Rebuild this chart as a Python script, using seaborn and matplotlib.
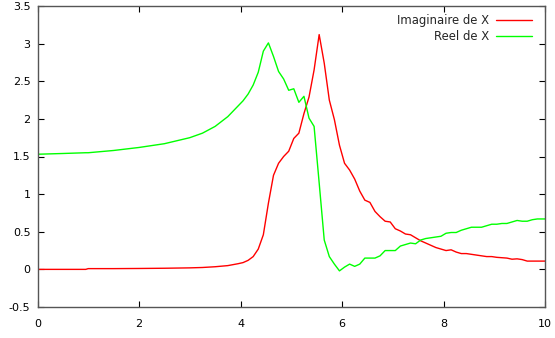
import numpy as np
import pandas as pd
import matplotlib
matplotlib.use("Agg")
import matplotlib.pyplot as plt
import seaborn as sns

x_vals = [0.0, 0.5, 0.95, 1.0, 1.5, 2.0, 2.5, 3.0, 3.25, 3.5, 3.75, 3.95,
          4.05, 4.15, 4.25, 4.35, 4.45, 4.55, 4.65, 4.75, 4.85, 4.95,
          5.05, 5.15, 5.25, 5.35, 5.45, 5.55, 5.65, 5.75, 5.85, 5.95,
          6.05, 6.15, 6.25, 6.35, 6.45, 6.55, 6.65, 6.75, 6.85, 6.95,
          7.05, 7.15, 7.25, 7.35, 7.45, 7.55, 7.65, 7.75, 7.85, 7.95,
          8.05, 8.15, 8.25, 8.35, 8.45, 8.55, 8.65, 8.75, 8.85, 8.95,
          9.05, 9.15, 9.25, 9.35, 9.45, 9.55, 9.65, 9.75, 9.85, 9.95, 10.0]

imag_vals = [0.0, 0.0, 0.0, 0.01, 0.01, 0.012, 0.015, 0.02, 0.025, 0.035, 0.05, 0.075,
             0.09, 0.12, 0.17, 0.27, 0.46, 0.88, 1.25, 1.41, 1.50, 1.57,
             1.74, 1.81, 2.07, 2.29, 2.65, 3.12, 2.74, 2.25, 1.99, 1.65,
             1.41, 1.32, 1.20, 1.04, 0.92, 0.89, 0.77, 0.70, 0.64, 0.63,
             0.54, 0.51, 0.47, 0.46, 0.42, 0.38, 0.35, 0.32, 0.29, 0.27,
             0.25, 0.26, 0.23, 0.21, 0.21, 0.20, 0.19, 0.18, 0.17, 0.17,
             0.16, 0.155, 0.15, 0.135, 0.14, 0.13, 0.11, 0.11, 0.11, 0.11, 0.11]

reel_vals = [1.53, 1.54, 1.55, 1.55, 1.58, 1.62, 1.67, 1.75, 1.81, 1.90, 2.03, 2.17,
             2.24, 2.33, 2.45, 2.62, 2.90, 3.01, 2.83, 2.63, 2.53, 2.38,
             2.40, 2.22, 2.30, 2.01, 1.90, 1.15, 0.39, 0.17, 0.07, -0.02,
             0.03, 0.07, 0.04, 0.07, 0.15, 0.15, 0.15, 0.18, 0.25, 0.25,
             0.25, 0.31, 0.33, 0.35, 0.34, 0.39, 0.41, 0.42, 0.43, 0.44,
             0.48, 0.49, 0.49, 0.52, 0.54, 0.56, 0.56, 0.56, 0.58, 0.60,
             0.60, 0.61, 0.61, 0.63, 0.65, 0.64, 0.64, 0.66, 0.67, 0.67, 0.67]

series_names = ["Imaginaire de X", "Reel de X"]
colors = ["#ff0000", "#00ff00"]

df = pd.concat([
    pd.DataFrame({"x": x_vals, "y": imag_vals, "serie": series_names[0]}),
    pd.DataFrame({"x": x_vals, "y": reel_vals, "serie": series_names[1]}),
])

sns.set_style("ticks")
plt.rcParams["font.family"] = ["DejaVu Sans"]

fig = plt.figure(figsize=(5.55, 3.38), dpi=100)
ax = fig.add_axes([37.5 / 555, 1 - 307 / 338, (545 - 37.5) / 555, (307 - 6) / 338])

sns.lineplot(data=df, x="x", y="y", hue="serie", palette=colors,
             linewidth=1.0, ax=ax, sort=False, estimator=None)

ax.set_xlim(0, 10)
ax.set_ylim(-0.5, 3.5)
ax.set_xticks([0, 2, 4, 6, 8, 10])
ax.set_xticklabels(["0", "2", "4", "6", "8", "10"])
ax.set_yticks([-0.5, 0, 0.5, 1, 1.5, 2, 2.5, 3, 3.5])
ax.set_yticklabels(["-0.5", "0", "0.5", "1", "1.5", "2", "2.5", "3", "3.5"])
ax.set_xlabel("")
ax.set_ylabel("")
ax.tick_params(direction="in", length=4, width=0.8, labelsize=8,
               top=True, right=True, colors="black", pad=5)
ax.tick_params(axis="x", pad=8.5)
for s in ax.spines.values():
    s.set_visible(True)
    s.set_color("#555555")
    s.set_linewidth(1.0)

leg = ax.legend(loc="upper right", frameon=False, markerfirst=False,
                fontsize=8.35, handlelength=3.08, labelspacing=0.22,
                handletextpad=0.58, borderaxespad=0.0, borderpad=0.0,
                bbox_to_anchor=(0.974, 0.972))

fig.savefig("out.png", dpi=100)
